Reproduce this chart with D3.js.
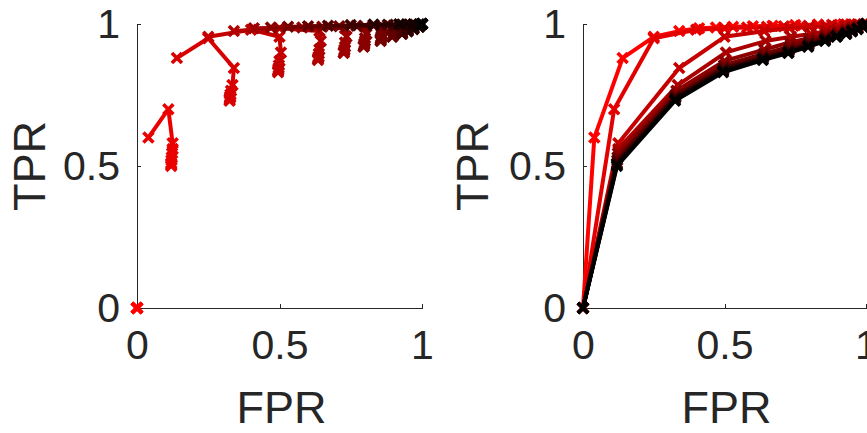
<!doctype html>
<html>

<head>
    <style>
        body {
            margin: 0;
            background: #fff;
        }

        .axis path,
        .axis line {
            fill: none;
            stroke: #262626;
            stroke-width: 1px;
            shape-rendering: crispEdges;
        }

        .axis text {
            font-family: "Liberation Sans", Arial, sans-serif;
            font-size: 41px;
            fill: #262626;
        }

        .label {
            font-family: "Liberation Sans", Arial, sans-serif;
            font-size: 45px;
            fill: #262626;
            text-anchor: middle;
        }

        .run path.line {
            fill: none;
            stroke-width: 4px;
            stroke-linejoin: round;
        }

        .run path.mark {
            fill: none;
            stroke-width: 3.6px;
        }
    </style>
    <script src="https://d3js.org/d3.v7.min.js"></script>
</head>

<body>

    <script>
        // one row per run (red -> black), one column per threshold step
        const fprRuns = [
            [0, 0.04, 0.14, 0.25, 0.34, 0.41, 0.47, 0.53, 0.6, 0.67, 0.75, 0.83, 0.92, 1],
            [0, 0.11, 0.25, 0.40, 0.50, 0.58, 0.65, 0.71, 0.77, 0.83, 0.88, 0.93, 0.97, 1],
            [0, 0.125, 0.34, 0.5, 0.64, 0.73, 0.8, 0.86, 0.9, 0.93, 0.95, 0.97, 0.99, 1],
            [0, 0.125, 0.335, 0.505, 0.645, 0.735, 0.805, 0.86, 0.9, 0.93, 0.95, 0.97, 0.99, 1],
            [0, 0.123, 0.33, 0.5, 0.64, 0.73, 0.8, 0.858, 0.9, 0.93, 0.95, 0.97, 0.99, 1],
            [0, 0.122, 0.328, 0.498, 0.638, 0.73, 0.8, 0.857, 0.9, 0.93, 0.95, 0.97, 0.99, 1],
            [0, 0.121, 0.327, 0.497, 0.637, 0.728, 0.798, 0.856, 0.898, 0.93, 0.95, 0.97, 0.99, 1],
            [0, 0.12, 0.326, 0.496, 0.636, 0.727, 0.797, 0.855, 0.897, 0.93, 0.95, 0.97, 0.99, 1],
            [0, 0.12, 0.325, 0.495, 0.635, 0.726, 0.796, 0.855, 0.896, 0.93, 0.95, 0.97, 0.99, 1],
            [0, 0.12, 0.325, 0.495, 0.635, 0.725, 0.795, 0.855, 0.895, 0.93, 0.95, 0.97, 0.99, 1]
        ]

        const tprRuns = [
            [0, 0.60, 0.88, 0.955, 0.975, 0.985, 0.988, 0.99, 0.992, 0.994, 0.996, 0.998, 0.999, 1],
            [0, 0.70, 0.95, 0.98, 0.985, 0.988, 0.99, 0.992, 0.994, 0.995, 0.997, 0.998, 0.999, 1],
            [0, 0.58, 0.845, 0.955, 0.975, 0.985, 0.99, 0.993, 0.995, 0.996, 0.997, 0.998, 0.999, 1],
            [0, 0.56, 0.785, 0.90, 0.94, 0.955, 0.965, 0.975, 0.982, 0.987, 0.99, 0.994, 0.997, 1],
            [0, 0.545, 0.765, 0.87, 0.91, 0.935, 0.95, 0.963, 0.972, 0.979, 0.985, 0.99, 0.995, 1],
            [0, 0.53, 0.752, 0.855, 0.895, 0.92, 0.94, 0.955, 0.966, 0.975, 0.981, 0.987, 0.993, 1],
            [0, 0.52, 0.745, 0.845, 0.885, 0.91, 0.932, 0.95, 0.962, 0.971, 0.978, 0.985, 0.992, 1],
            [0, 0.51, 0.74, 0.84, 0.88, 0.905, 0.927, 0.946, 0.958, 0.968, 0.976, 0.984, 0.991, 1],
            [0, 0.505, 0.735, 0.835, 0.876, 0.90, 0.922, 0.943, 0.956, 0.966, 0.975, 0.983, 0.99, 1],
            [0, 0.50, 0.73, 0.83, 0.873, 0.898, 0.92, 0.94, 0.955, 0.965, 0.974, 0.982, 0.99, 1]
        ]

        const xTicks = [0, 0.5, 1]
        const yTicks = [0, 0.5, 1]
        const xTitle = "FPR"
        const yTitle = "TPR"

        const svg = d3.select("body").append("svg")
            .attr("width", 867)
            .attr("height", 433)

        const nRuns = fprRuns.length
        const nSteps = fprRuns[0].length

        // red -> black ramp
        const shade = (i, n) => d3.rgb(255 * (1 - i / (n - 1)), 0, 0).toString()

        const cross = "M-5,-5L5,5M-5,5L5,-5"

        const yScale = d3.scaleLinear().domain([0, 1]).range([308, 24])

        const drawPanel = (left, right, series, titleX) => {
            const xScale = d3.scaleLinear().domain([0, 1]).range([left, right])
            const g = svg.append("g")

            g.append("g")
                .attr("class", "axis")
                .attr("transform", `translate(0,${yScale(0)})`)
                .call(d3.axisBottom(xScale).tickValues(xTicks).tickSize(-4).tickSizeOuter(-4).tickPadding(22)
                    .tickFormat(d3.format("")))
                .call(a => a.selectAll("text").attr("dy", "0.71em"))

            g.append("g")
                .attr("class", "axis")
                .attr("transform", `translate(${left},0)`)
                .call(d3.axisLeft(yScale).tickValues(yTicks).tickSize(-4).tickSizeOuter(-4).tickPadding(17)
                    .tickFormat(d3.format("")))

            g.append("text")
                .attr("class", "label")
                .attr("x", (left + right) / 2 + 2)
                .attr("y", 423)
                .text(xTitle)

            g.append("text")
                .attr("class", "label")
                .attr("transform", `translate(${titleX},${yScale(0.5)}) rotate(-90)`)
                .text(yTitle)

            const line = d3.line().x(d => xScale(d[0])).y(d => yScale(d[1]))

            const runs = g.selectAll("g.run")
                .data(series)
                .enter()
                .append("g")
                .attr("class", "run")

            runs.append("path")
                .attr("class", "line")
                .attr("stroke", d => d.color)
                .attr("d", d => line(d.points))

            runs.selectAll("path.mark")
                .data(d => d.points.map(p => ({ p: p, color: d.color })))
                .enter()
                .append("path")
                .attr("class", "mark")
                .attr("stroke", d => d.color)
                .attr("transform", d => `translate(${xScale(d.p[0])},${yScale(d.p[1])})`)
                .attr("d", cross)
        }

        // left: each line links one threshold step across the runs
        const byStep = d3.range(nSteps).map(j => ({
            color: shade(j, nSteps),
            points: d3.range(nRuns).map(k => [fprRuns[k][j], tprRuns[k][j]])
        }))

        // right: each line is one run's ROC curve
        const byRun = d3.range(nRuns).map(k => ({
            color: shade(k, nRuns),
            points: d3.range(nSteps).map(j => [fprRuns[k][j], tprRuns[k][j]])
        }))

        drawPanel(137, 422, byStep, 45)
        drawPanel(583, 866, byRun, 488)
    </script>
</body>

</html>
